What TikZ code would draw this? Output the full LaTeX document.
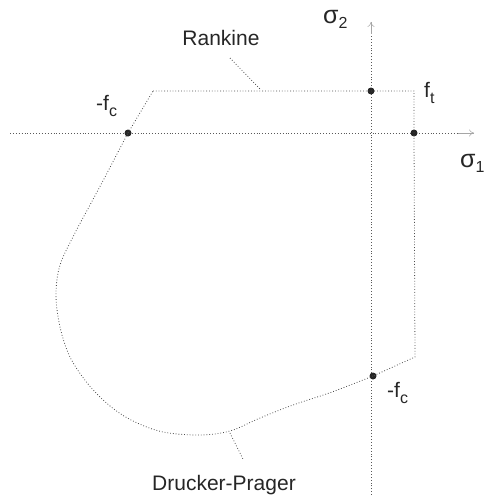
\documentclass[tikz,border=0pt]{standalone}
\usepackage{fontspec}
\setmainfont{Liberation Sans}
\usetikzlibrary{arrows.meta}
\newcommand{\lowsub}[2][4pt]{\raisebox{-#1}{\fontsize{16}{18}\selectfont #2}}
\begin{document}
\begin{tikzpicture}[x=1pt,y=-1pt,
  dotline/.style={dotted, line width=0.8pt, black!70},
  axisline/.style={dotted, line width=0.9pt, black!65},
  tipline/.style={line width=0.5pt, black!35, -{To[length=5pt,width=7pt]}},
  pt/.style={circle, fill=black!85, inner sep=0pt, minimum size=7pt},
  lbl/.style={font=\fontsize{21}{24}\selectfont, inner sep=0pt, text=black!85},
  sym/.style={font=\fontsize{25}{28}\selectfont, inner sep=0pt, text=black!85}]
\useasboundingbox (0,0) rectangle (495,495);
% axes
\coordinate (xl) at (10,133);
\coordinate (xr) at (458,133);
\coordinate (xtip) at (474,133);
\coordinate (yb) at (371,495);
\coordinate (yt) at (371,34);
\coordinate (ytip) at (371,22);
\draw[axisline] (xl) -- (xr);
\draw[axisline] (yb) -- (yt);
\draw[tipline] (xr) -- (xtip);
\draw[tipline] (yt) -- (ytip);
% key points
\node[pt] (fcx) at (128,133) {};
\node[pt] (ftx) at (414,133) {};
\node[pt] (fty) at (371,91) {};
\node[pt] (fcy) at (373,376) {};
% Rankine part
\coordinate (rl) at (153,91);
\coordinate (rr) at (414,91);
\coordinate (rb) at (415,357);
\draw[dotline] (rl) -- (fty.center) -- (rr) -- (ftx.center) -- (rb) -- (fcy.center);
% Drucker-Prager part
\draw[dotline] plot[smooth, tension=0.55] coordinates {
  (fcy.center) (332,392) (293,405) (260,418) (230,431) (200,435) (163,432)
  (133,421) (110,406) (88,384) (70,357) (60,327) (56,295) (60,265)
  (75,233) (90,205) (105,177) (117,154) (fcx.center)};
\draw[dotline] (fcx.center) -- (rl);
% labels
\node[lbl] (rank) at (221,38) {Rankine};
\node[lbl, anchor=base] (dp) at (224,490) {Drucker-Prager};
\coordinate (rk1) at (230,58);
\coordinate (rk2) at (261,90);
\coordinate (dp1) at (230,433);
\coordinate (dp2) at (243,459);
\draw[dotline] (rk1) -- (rk2);
\draw[dotline] (dp1) -- (dp2);
\node[sym, anchor=base west] (s2) at (323,24) {σ\lowsub[5pt]{2}};
\node[sym, anchor=base west] (s1) at (460,167) {σ\lowsub[5pt]{1}};
\node[lbl, anchor=base west] (ft) at (424,97) {f\lowsub[6pt]{t}};
\node[lbl, anchor=base west] (fc1) at (96,110) {-f\lowsub[6pt]{c}};
\node[lbl, anchor=base west] (fc2) at (387,397) {-f\lowsub[6pt]{c}};
\end{tikzpicture}
\end{document}
